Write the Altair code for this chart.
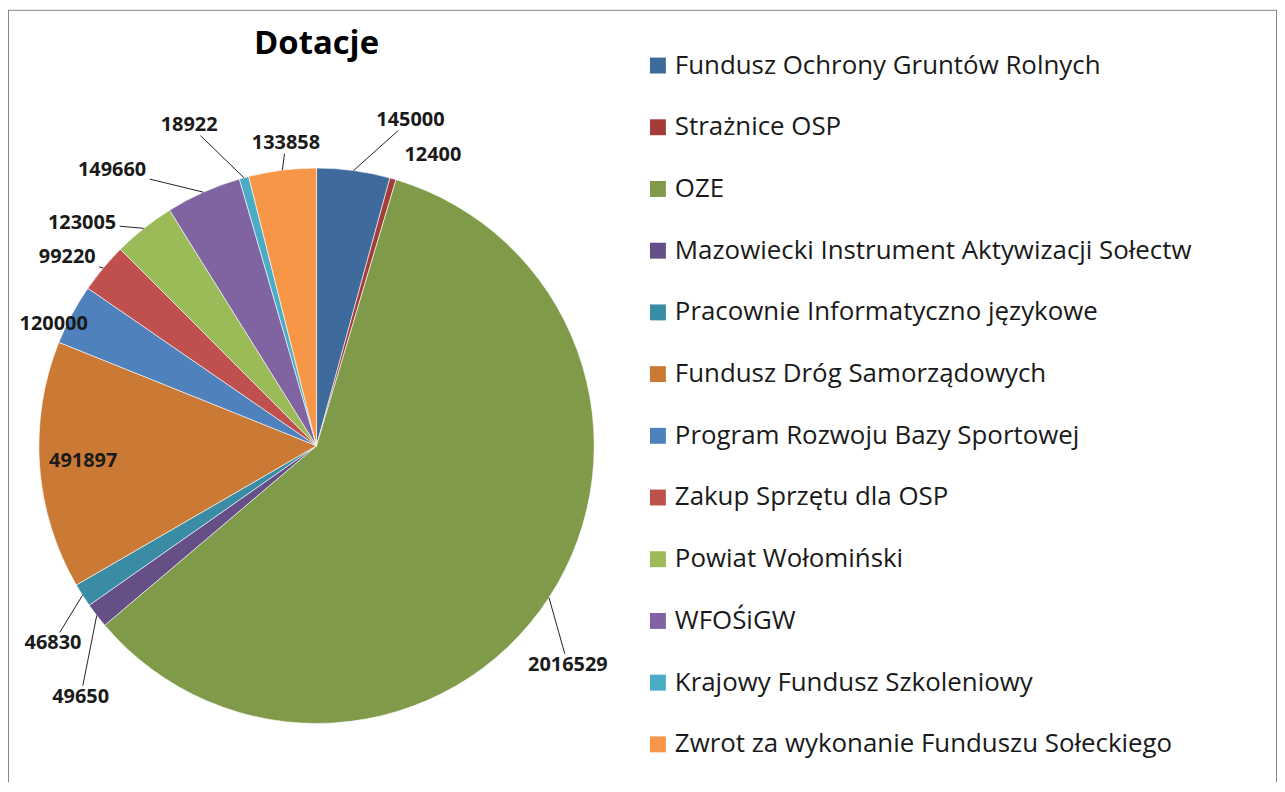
import math
import altair as alt
import pandas as pd

# ---- data ----
categories = [
    "Fundusz Ochrony Gruntów Rolnych",
    "Strażnice OSP",
    "OZE",
    "Mazowiecki Instrument Aktywizacji Sołectw",
    "Pracownie Informatyczno językowe",
    "Fundusz Dróg Samorządowych",
    "Program Rozwoju Bazy Sportowej",
    "Zakup Sprzętu dla OSP",
    "Powiat Wołomiński",
    "WFOŚiGW",
    "Krajowy Fundusz Szkoleniowy",
    "Zwrot za wykonanie Funduszu Sołeckiego",
]
values = [145000, 12400, 2016529, 49650, 46830, 491897, 120000, 99220, 123005, 149660, 18922, 133858]
colors = ["#3E6A9C", "#A23D3A", "#7F9A48", "#664E86", "#3A8CA4", "#CB7A36",
          "#4F81BD", "#C0504D", "#9BBB59", "#8064A2", "#4BACC6", "#F79646"]

# label layout (nudges from slice mid-angle, distance beyond the rim)
label_nudge_deg = [8.4, 5.8, 7.9, -9.1, -4.3, 0.3, -3.4, -2.7, -8.0, -12.5, -6.5, 1.3]
label_extra_px = [62, 36, 56, 67, 52, -44, 12, 35, 46, 66, 68, 27]
has_leader = [True, False, True, True, True, False, False, True, True, True, True, True]

W, H = 1275, 776
CX, CY, R = 310, 438, 279
LABEL_FS = 20

total = float(sum(values))
rows_lab, rows_lead = [], []
cum = 0.0
for i, v in enumerate(values):
    mid = (cum + v / 2.0) / total * 2 * math.pi
    cum += v
    ang = mid + math.radians(label_nudge_deg[i])
    lr = R + label_extra_px[i]
    lx = CX + lr * math.sin(ang)
    ly = CY - lr * math.cos(ang)
    txt = str(v)
    rows_lab.append({"lx": lx, "ly": ly, "label": txt})
    if has_leader[i]:
        ex = CX + R * math.sin(mid)
        ey = CY - R * math.cos(mid)
        dx, dy = ex - lx, ey - ly
        hw = len(txt) * LABEL_FS * 0.29 + 3
        hh = 11
        t = min(hw / abs(dx) if abs(dx) > 1e-6 else 1e9, hh / abs(dy) if abs(dy) > 1e-6 else 1e9)
        ax, ay = lx + dx * t, ly + dy * t
        rows_lead.append({"x1": ex, "y1": ey, "x2": ax, "y2": ay})

df = pd.DataFrame({"cat": categories, "value": values, "order": list(range(len(values)))})
lab_df = pd.DataFrame(rows_lab)
lead_df = pd.DataFrame(rows_lead)

pie = alt.Chart(df).mark_arc(radius=R, stroke="white", strokeWidth=0.6).encode(
    theta=alt.Theta("value:Q", stack=True),
    order=alt.Order("order:Q"),
    color=alt.Color(
        "cat:N",
        sort=categories,
        scale=alt.Scale(domain=categories, range=colors),
        legend=alt.Legend(
            title=None, orient="none", legendX=640, legendY=43,
            symbolType="square", symbolSize=256, symbolStrokeWidth=0, symbolOpacity=1,
            labelFont="Open Sans", labelFontSize=26, labelColor="#1a1a1a",
            labelOffset=4, labelLimit=0, rowPadding=36, padding=0,
        ),
    ),
    x=alt.value(CX),
    y=alt.value(CY),
)

leaders = alt.Chart(lead_df).mark_rule(color="#222222", strokeWidth=1).encode(
    x=alt.X("x1:Q", scale=None, axis=None),
    y=alt.Y("y1:Q", scale=None, axis=None),
    x2="x2:Q",
    y2="y2:Q",
)

labels = alt.Chart(lab_df).mark_text(
    font="Open Sans", fontWeight="bold", fontSize=LABEL_FS, color="#1a1a1a",
    align="center", baseline="middle",
).encode(
    x=alt.X("lx:Q", scale=None, axis=None),
    y=alt.Y("ly:Q", scale=None, axis=None),
    text="label:N",
)

title = alt.Chart(pd.DataFrame({"t": ["Dotacje"]})).mark_text(
    font="Open Sans", fontWeight="bold", fontSize=33, color="#000000",
    align="center", baseline="alphabetic",
).encode(x=alt.value(CX), y=alt.value(44), text="t:N")

frame_df = pd.DataFrame({"k": [0]})
frame_left = alt.Chart(frame_df).mark_rule(color="#868686", strokeWidth=1).encode(
    x=alt.value(0.5), y=alt.value(0), y2=alt.value(H))
frame_right = alt.Chart(frame_df).mark_rule(color="#868686", strokeWidth=1).encode(
    x=alt.value(W - 0.5), y=alt.value(0), y2=alt.value(H))
frame_top = alt.Chart(frame_df).mark_rule(color="#868686", strokeWidth=1).encode(
    x=alt.value(0), x2=alt.value(W), y=alt.value(0.5))

chart = alt.layer(pie, leaders, labels, title, frame_left, frame_right, frame_top).properties(
    width=W, height=H, padding=0, autosize=alt.AutoSizeParams(type="none"),
    background="white",
).configure_view(stroke=None)

chart.save("out.html", embed_options={"renderer": "svg", "actions": False})
